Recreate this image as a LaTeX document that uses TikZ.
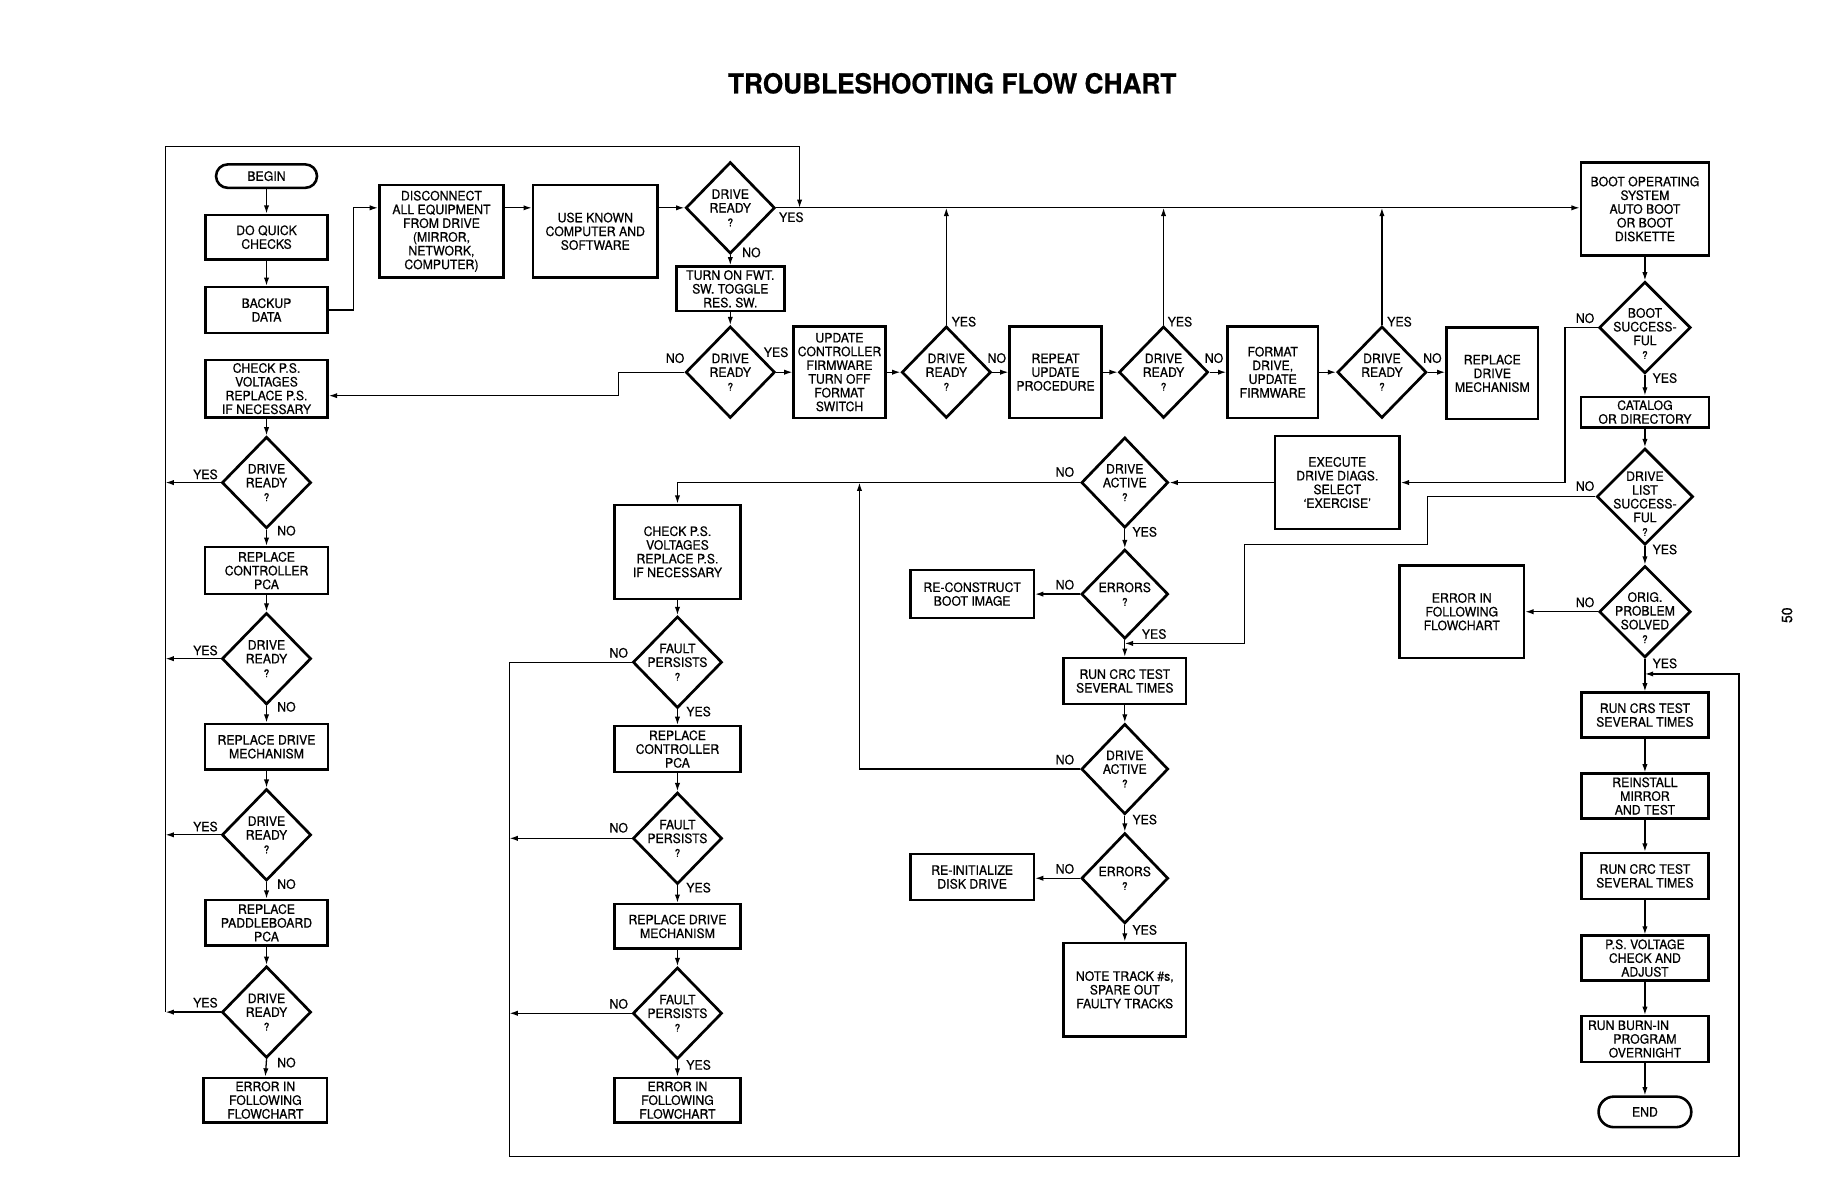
\documentclass[tikz,border=0pt]{standalone}
\usepackage{fontspec}
\setmainfont[FakeStretch=0.95,FakeBold=0.6]{TeX Gyre Heros}
\usetikzlibrary{shapes.geometric,arrows.meta,calc}
\newcommand\Qm{{\fontsize{9}{11.7}\selectfont ?}}
\newcommand\Dia[4][]{\node[dmd,#1] (#2) at (#3) {};\node[dtext] (#2t) at (#2.center) {#4};}
\newcommand\DiaY[5][]{\node[dmd,#1] (#2) at (#3) {};\node[dtext,yshift=#4] (#2t) at (#2.center) {#5};}
\tikzset{
  base/.style={font=\fontsize{11}{11.7}\selectfont, align=center, inner sep=0pt},
  box/.style={base, draw, line width=2.2pt, rectangle},
  term/.style={base, draw, line width=2.2pt, rounded corners=10pt},
  dmd/.style={draw, diamond, line width=2.3pt, inner sep=0pt, minimum width=76pt, minimum height=78pt},
  dtext/.style={base},
  lab/.style={font=\fontsize{11}{12}\selectfont, inner sep=0pt},
  conn/.style={line width=1.1pt},
  arr/.style={conn, -{Latex[length=7pt,width=4.5pt]}},
}
\begin{document}
\begin{tikzpicture}[x=1pt,y=-1pt]
\useasboundingbox (0,0) rectangle (1568,1018);

% title and page number
\node[inner sep=0pt] (title) at (811,71) {\fontsize{23.5}{26}\selectfont\bfseries TROUBLESHOOTING FLOW CHART};
\node[rotate=90,inner sep=0pt] (pg) at (1522,524) {\fontsize{12.5}{14}\selectfont 50};

% ---- column 1
\node[term, minimum width=86, minimum height=20] (begin) at (227,150) {BEGIN};
\node[box, minimum width=104, minimum height=38] (quick) at (227,202) {DO QUICK\\CHECKS};
\node[box, minimum width=104, minimum height=39] (backup) at (227,264) {BACKUP\\DATA};
\node[box, minimum width=104, minimum height=49] (ckps1) at (227,331) {CHECK P.S.\\VOLTAGES\\REPLACE P.S.\\IF NECESSARY};
\Dia{dla}{227,411}{DRIVE\\READY\\\Qm}
\node[box, minimum width=105, minimum height=40] (rcp1) at (227,486) {REPLACE\\CONTROLLER\\PCA};
\Dia{dlb}{227,561}{DRIVE\\READY\\\Qm}
\node[box, minimum width=105, minimum height=39] (rdm1) at (227,636) {REPLACE DRIVE\\MECHANISM};
\Dia{dlc}{227,711}{DRIVE\\READY\\\Qm}
\node[box, minimum width=104, minimum height=39] (rpb) at (227,786) {REPLACE\\PADDLEBOARD\\PCA};
\Dia{dld}{227,862}{DRIVE\\READY\\\Qm}
\node[box, minimum width=105, minimum height=38] (err1) at (226,937) {ERROR IN\\FOLLOWING\\FLOWCHART};

% ---- top row
\node[box, minimum width=106, minimum height=79] (disc) at (376,197) {DISCONNECT\\ALL EQUIPMENT\\FROM DRIVE\\(MIRROR,\\NETWORK,\\COMPUTER)};
\node[box, minimum width=106, minimum height=79] (use) at (507,197) {USE KNOWN\\COMPUTER AND\\SOFTWARE};
\Dia{d1}{622,177}{DRIVE\\READY\\\Qm}
\node[box, minimum width=92, minimum height=38] (turn) at (622,246) {TURN ON FWT.\\SW. TOGGLE\\RES. SW.};
\Dia{d2}{622,317}{DRIVE\\READY\\\Qm}
\node[box, minimum width=78, minimum height=78] (upd) at (715,317) {UPDATE\\CONTROLLER\\FIRMWARE\\TURN OFF\\FORMAT\\SWITCH};
\Dia{d3}{806,317}{DRIVE\\READY\\\Qm}
\node[box, minimum width=78, minimum height=78] (rep) at (899,317) {REPEAT\\UPDATE\\PROCEDURE};
\Dia{d4}{991,317}{DRIVE\\READY\\\Qm}
\node[box, minimum width=77, minimum height=78] (fmt) at (1084,317) {FORMAT\\DRIVE,\\UPDATE\\FIRMWARE};
\Dia{d5}{1177,317}{DRIVE\\READY\\\Qm}
\node[box, minimum width=78, minimum height=78] (rdm) at (1271,318) {REPLACE\\DRIVE\\MECHANISM};

% ---- right column
\node[box, minimum width=109, minimum height=79] (boot) at (1401,178) {BOOT OPERATING\\SYSTEM\\AUTO BOOT\\OR BOOT\\DISKETTE};
\DiaY[minimum width=78, minimum height=78]{bs}{1401,279}{-5pt}{BOOT\\SUCCESS-\\FUL\\\Qm}
\node[box, minimum width=109, minimum height=26] (cat) at (1401,351) {CATALOG\\OR DIRECTORY};
\DiaY[minimum width=82, minimum height=82]{dl}{1401,423}{-6pt}{DRIVE\\LIST\\SUCCESS-\\FUL\\\Qm}
\DiaY[minimum width=78, minimum height=78]{orig}{1401,521}{-5pt}{ORIG.\\PROBLEM\\SOLVED\\\Qm}
\node[box, minimum width=106, minimum height=79] (errr) at (1245,521) {ERROR IN\\FOLLOWING\\FLOWCHART};
\node[box, minimum width=108, minimum height=38] (crs) at (1401,609) {RUN CRS TEST\\SEVERAL TIMES};
\node[box, minimum width=108, minimum height=38] (rein) at (1401,678) {REINSTALL\\MIRROR\\AND TEST};
\node[box, minimum width=108, minimum height=39] (crc2) at (1401,746) {RUN CRC TEST\\SEVERAL TIMES};
\node[box, minimum width=108, minimum height=38] (ps) at (1401,816) {P.S. VOLTAGE\\CHECK AND\\ADJUST};
\node[box, minimum width=108, minimum height=39] (burn) at (1401,885) {RUN BURN-IN\hspace*{28pt}\\PROGRAM\\OVERNIGHT};
\node[term, minimum width=79, minimum height=26, rounded corners=13pt] (endn) at (1401,947) {END};

% ---- middle column
\node[box, minimum width=106, minimum height=79] (exe) at (1139,411) {EXECUTE\\DRIVE DIAGS.\\SELECT\\‘EXERCISE’};
\Dia[minimum width=74, minimum height=77]{da1}{958,411}{DRIVE\\ACTIVE\\\Qm}
\Dia[minimum width=74, minimum height=76]{er1}{958,506}{ERRORS\\\Qm}
\node[box, minimum width=105, minimum height=41] (rcb) at (828,506) {RE-CONSTRUCT\\BOOT IMAGE};
\node[box, minimum width=104, minimum height=39] (crc1) at (958,580) {RUN CRC TEST\\SEVERAL TIMES};
\Dia[minimum width=74, minimum height=77]{da2}{958,655}{DRIVE\\ACTIVE\\\Qm}
\Dia[minimum width=74, minimum height=77]{er2}{958,748}{ERRORS\\\Qm}
\node[box, minimum width=105, minimum height=39] (rid) at (828,747) {RE-INITIALIZE\\DISK DRIVE};
\node[box, minimum width=104, minimum height=80] (note) at (958,843) {NOTE TRACK \#s,\\SPARE OUT\\FAULTY TRACKS};

% ---- third column
\node[box, minimum width=107, minimum height=80] (ckps2) at (577,470) {CHECK P.S.\\VOLTAGES\\REPLACE P.S.\\IF NECESSARY};
\Dia{fp1}{577,564}{FAULT\\PERSISTS\\\Qm}
\node[box, minimum width=107, minimum height=39] (rcp2) at (577,638) {REPLACE\\CONTROLLER\\PCA};
\Dia{fp2}{577,714}{FAULT\\PERSISTS\\\Qm}
\node[box, minimum width=107, minimum height=38] (rdm2) at (577,789) {REPLACE DRIVE\\MECHANISM};
\Dia{fp3}{577,863}{FAULT\\PERSISTS\\\Qm}
\node[box, minimum width=107, minimum height=38] (err2) at (577,937) {ERROR IN\\FOLLOWING\\FLOWCHART};

% ---- helper coordinates
\coordinate (ftl) at (141,125);
\coordinate (ftr) at (681,125);
\coordinate (fbl) at (141,862);
\coordinate (b1) at (301,177);
\coordinate (c2) at (527,337);
\coordinate (c3) at (1333,411);
\coordinate (c4a) at (1216,464);
\coordinate (c4b) at (1060,548);
\coordinate (c5) at (732,411);
\coordinate (c6) at (434,985);
\coordinate (c7) at (1481,574);

% ---- connectors
\draw[arr] (begin) -- (quick);
\draw[arr] (quick) -- (backup);
\draw[arr] (backup.east) -| (b1) -- (disc.west |- b1);
\draw[arr] (disc.east |- b1) -- (use.west |- b1);
\draw[arr] (use.east |- d1) -- (d1.west);
\draw[arr] (d1.east) -- (boot.west |- d1.east);
\draw[arr] (fbl) -- (ftl) -- (ftr) -- (ftr |- d1.east);
\draw[arr] (d1.south) -- (turn.north);
\draw[arr] (turn.south) -- (d2.north);
\draw[arr] (d2.west) -| (c2) -- (ckps1.east |- c2);
\draw[arr] (d2.east) -- (upd.west);
\draw[arr] (upd.east) -- (d3.west);
\draw[arr] (d3.east) -- (rep.west);
\draw[arr] (rep.east) -- (d4.west);
\draw[arr] (d4.east) -- (fmt.west);
\draw[arr] (fmt.east) -- (d5.west);
\draw[arr] (d5.east) -- (rdm.west |- d5.east);
\draw[arr] (d3.north) -- (d3.north |- d1.east);
\draw[arr] (d4.north) -- (d4.north |- d1.east);
\draw[arr] (d5.north) -- (d5.north |- d1.east);

\draw[arr] (ckps1.south) -- (dla.north);
\draw[arr] (dla.south) -- (rcp1.north);
\draw[arr] (rcp1.south) -- (dlb.north);
\draw[arr] (dlb.south) -- (rdm1.north);
\draw[arr] (rdm1.south) -- (dlc.north);
\draw[arr] (dlc.south) -- (rpb.north);
\draw[arr] (rpb.south) -- (dld.north);
\draw[arr] (dld.south) -- (err1.north);
\draw[arr] (dla.west) -- (dla.west -| ftl);
\draw[arr] (dlb.west) -- (dlb.west -| ftl);
\draw[arr] (dlc.west) -- (dlc.west -| ftl);
\draw[arr] (dld.west) -- (dld.west -| ftl);

\draw[arr] (boot.south) -- (bs.north);
\draw[arr] (bs.south) -- (cat.north);
\draw[arr] (cat.south) -- (dl.north);
\draw[arr] (dl.south) -- (orig.north);
\draw[arr] (orig.south) -- (crs.north);
\draw[arr] (crs.south) -- (rein.north);
\draw[arr] (rein.south) -- (crc2.north);
\draw[arr] (crc2.south) -- (ps.north);
\draw[arr] (ps.south) -- (burn.north);
\draw[arr] (burn.south) -- (endn.north);
\draw[arr] (bs.west) -| (c3) -- (exe.east |- c3);
\draw[arr] (dl.west) -| (c4a) -| (c4b) -- (er1.south |- c4b);
\draw[arr] (orig.west) -- (errr.east);

\draw[arr] (exe.west) -- (da1.east);
\draw[arr] (da1.west) -| (ckps2.north);
\draw[arr] (da1.south) -- (er1.north);
\draw[arr] (er1.west) -- (rcb.east);
\draw[arr] (er1.south) -- (crc1.north);
\draw[arr] (crc1.south) -- (da2.north);
\draw[arr] (da2.west) -| (c5);
\draw[arr] (da2.south) -- (er2.north);
\draw[arr] (er2.west) -- (rid.east |- er2.west);
\draw[arr] (er2.south) -- (note.north);

\draw[arr] (ckps2.south) -- (fp1.north);
\draw[arr] (fp1.south) -- (rcp2.north);
\draw[arr] (rcp2.south) -- (fp2.north);
\draw[arr] (fp2.south) -- (rdm2.north);
\draw[arr] (rdm2.south) -- (fp3.north);
\draw[arr] (fp3.south) -- (err2.north);
\draw[arr] (fp1.west) -| (c6) -| (c7) -- (orig.south |- c7);
\draw[arr] (fp2.west) -- (fp2.west -| c6);
\draw[arr] (fp3.west) -- (fp3.west -| c6);

% ---- labels
\node[lab] (l1) at (674,185) {YES};
\node[lab] (l2) at (640,215) {NO};
\node[lab] (l3) at (575,305) {NO};
\node[lab] (l4) at (661,300) {YES};
\node[lab] (l5) at (821,274) {YES};
\node[lab] (l6) at (849,305) {NO};
\node[lab] (l7) at (1005,274) {YES};
\node[lab] (l8) at (1034,305) {NO};
\node[lab] (l9) at (1192,274) {YES};
\node[lab] (l10) at (1220,305) {NO};
\node[lab] (l11) at (1350,271) {NO};
\node[lab] (l12) at (1418,322) {YES};
\node[lab] (l13) at (1350,414) {NO};
\node[lab] (l14) at (1418,468) {YES};
\node[lab] (l15) at (1350,513) {NO};
\node[lab] (l16) at (1418,565) {YES};
\node[lab] (l17) at (907,402) {NO};
\node[lab] (l18) at (975,453) {YES};
\node[lab] (l19) at (907,498) {NO};
\node[lab] (l20) at (983,540) {YES};
\node[lab] (l21) at (907,647) {NO};
\node[lab] (l22) at (975,698) {YES};
\node[lab] (l23) at (907,740) {NO};
\node[lab] (l24) at (975,792) {YES};
\node[lab] (l25) at (527,556) {NO};
\node[lab] (l26) at (595,606) {YES};
\node[lab] (l27) at (527,705) {NO};
\node[lab] (l28) at (595,756) {YES};
\node[lab] (l29) at (527,855) {NO};
\node[lab] (l30) at (595,907) {YES};
\node[lab] (l31) at (175,404) {YES};
\node[lab] (l32) at (244,452) {NO};
\node[lab] (l33) at (175,554) {YES};
\node[lab] (l34) at (244,602) {NO};
\node[lab] (l35) at (175,704) {YES};
\node[lab] (l36) at (244,753) {NO};
\node[lab] (l37) at (175,854) {YES};
\node[lab] (l38) at (244,905) {NO};
\end{tikzpicture}
\end{document}
